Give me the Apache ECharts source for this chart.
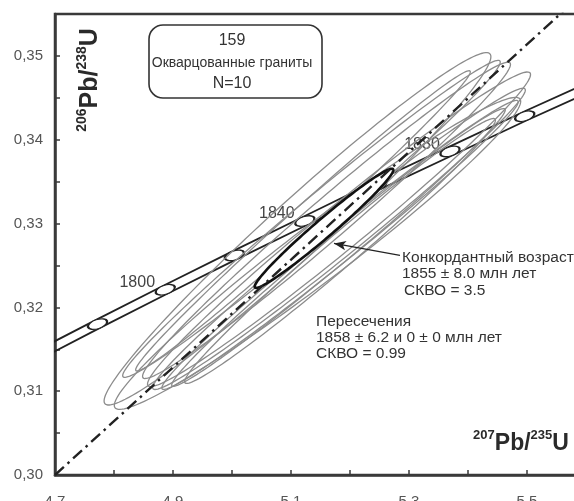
<!DOCTYPE html>
<html>
<head>
<meta charset="utf-8">
<script src="https://cdn.jsdelivr.net/npm/echarts@6/dist/echarts.min.js"></script>
<style>
html, body { margin: 0; padding: 0; background: #fff; }
#chart { width: 574px; height: 501px; }
</style>
</head>
<body>
<div id="chart"></div>
<script>
// Concordia age marks (Ma) with 207Pb/235U and 206Pb/238U coordinates
const concAges = [1780, 1800, 1820, 1840, 1860, 1880, 1900];
const concX = [4.7721, 4.8869, 5.0040, 5.1234, 5.2453, 5.3695, 5.4962];
const concY = [0.3180, 0.3221, 0.3262, 0.3303, 0.3345, 0.3386, 0.3428];

// Edges of the concordia band, 1760–1920 Ma
const bandX = [4.6595, 4.7721, 4.8869, 5.0040, 5.1234, 5.2453, 5.3695, 5.4962, 5.6254];
const bandUpper = [0.3145, 0.3186, 0.3227, 0.3268, 0.3309, 0.3351, 0.3392, 0.3434, 0.3475];
const bandLower = [0.3133, 0.3174, 0.3215, 0.3256, 0.3297, 0.3339, 0.3380, 0.3422, 0.3463];

// Zircon analyses: 207Pb/235U ± err, 206Pb/238U ± err, error correlation
const pb207u235 = [5.1110, 5.1347, 5.1203, 5.1602, 5.1814, 5.1814, 5.1831, 5.1805, 5.1831, 5.1449];
const pb207u235Err = [0.3278, 0.3200, 0.2836, 0.3118, 0.3246, 0.3158, 0.3020, 0.2827, 0.2634, 0.3444];
const pb206u238 = [0.32937, 0.33056, 0.33032, 0.33038, 0.32931, 0.32817, 0.32745, 0.32715, 0.32673, 0.32644];
const pb206u238Err = [0.02102, 0.01891, 0.01791, 0.01887, 0.01877, 0.01797, 0.01724, 0.01657, 0.01580, 0.01861];
const errCorr = [0.9769, 0.9891, 0.9925, 0.9860, 0.9839, 0.9878, 0.9896, 0.9902, 0.9870, 0.9743];

// Concordant age ellipse: 207/235, err, 206/238, err, rho
const concordantEllipse = [5.1559, 0.1175, 0.32943, 0.00711, 0.9793];

// Discordia chord
const discordiaX = [4.70, 5.60];
const discordiaY = [0.3000, 0.3578];

// Arrow from the concordant-age note to its ellipse
const arrowFrom = [5.2847, 0.32620];
const arrowTo = [5.1729, 0.32763];

const FONT = '"Liberation Sans", Arial, sans-serif';
const INK = '#333';

function ellipseItem(stroke, lineWidth, fill) {
  return function (params, api) {
    const x = api.value(0), y = api.value(1), sx = api.value(2), sy = api.value(3), r = api.value(4);
    const q = Math.sqrt(1 - r * r);
    const pts = [];
    for (let k = 0; k < 160; k++) {
      const t = (k / 160) * Math.PI * 2;
      pts.push(api.coord([x + sx * Math.cos(t), y + sy * (r * Math.cos(t) + q * Math.sin(t))]));
    }
    return {
      type: 'polygon',
      shape: { points: pts },
      style: { fill: fill, stroke: stroke, lineWidth: lineWidth }
    };
  };
}

function note(x, y, text, size) {
  return {
    type: 'text', x: x, y: y, z: 100,
    style: {
      text: text, fill: INK,
      fontSize: size || 15.5, fontFamily: FONT,
      textAlign: 'left', textVerticalAlign: 'middle',
      align: 'left', verticalAlign: 'middle'
    }
  };
}

function centred(x, y, text, size) {
  const t = note(x, y, text, size);
  t.style.textAlign = 'center';
  t.style.align = 'center';
  return t;
}

function ratioTitle(x, y, rotation, top, bottom, bigSize, supSize) {
  const big = { fontSize: bigSize, fontWeight: 'bold', fontFamily: FONT, fill: '#2a2a2a', verticalAlign: 'bottom', lineHeight: bigSize + 3 };
  const sup = { fontSize: supSize, fontWeight: 'bold', fontFamily: FONT, fill: '#2a2a2a', verticalAlign: 'top', lineHeight: supSize + 1 };
  return {
    type: 'text', x: x, y: y, rotation: rotation, z: 100,
    style: {
      text: '{s|' + top + '}{b|Pb/}{s|' + bottom + '}{b|U}',
      textAlign: 'center', textVerticalAlign: 'middle', align: 'center', verticalAlign: 'middle',
      rich: { s: sup, b: big }
    }
  };
}

const chart = echarts.init(document.getElementById('chart'), null, { renderer: 'canvas' });

chart.setOption({
  animation: false,
  backgroundColor: '#fff',
  grid: {
    left: 55, top: 14, bottom: 26, right: -12,
    outerBoundsMode: 'none', containLabel: false,
    show: true, borderColor: '#3a3a3a', borderWidth: 2.5, backgroundColor: 'transparent'
  },
  xAxis: {
    type: 'value', min: 4.7, max: 5.6, interval: 0.1,
    axisLine: { show: true, onZero: false, lineStyle: { color: '#3a3a3a', width: 2.5 } },
    axisTick: { show: true, inside: true, length: 5, lineStyle: { color: '#3a3a3a', width: 1.5 } },
    axisLabel: {
      margin: 19, fontSize: 15, fontFamily: FONT, color: '#555',
      formatter: v => (Math.round(v * 10) % 2 === 1 ? v.toFixed(1) : '')
    },
    splitLine: { show: false }
  },
  yAxis: {
    type: 'value', min: 0.30, max: 0.355, interval: 0.005,
    axisLine: { show: true, onZero: false, lineStyle: { color: '#3a3a3a', width: 2.5 } },
    axisTick: { show: true, inside: true, length: 5, lineStyle: { color: '#3a3a3a', width: 1.5 } },
    axisLabel: {
      margin: 12, fontSize: 15, fontFamily: FONT, color: '#555',
      formatter: v => (Math.round(v * 1000) % 10 === 0 ? v.toFixed(2).replace('.', ',') : '')
    },
    splitLine: { show: false }
  },
  series: [
    {
      name: 'band-upper', type: 'line', showSymbol: false, silent: true, z: 2,
      data: bandX.map((x, i) => [x, bandUpper[i]]),
      lineStyle: { color: '#222', width: 1.8 }
    },
    {
      name: 'band-lower', type: 'line', showSymbol: false, silent: true, z: 2,
      data: bandX.map((x, i) => [x, bandLower[i]]),
      lineStyle: { color: '#222', width: 1.8 }
    },
    {
      name: 'age-marks', type: 'scatter', silent: true, z: 3,
      data: concX.map((x, i) => [x, concY[i], concAges[i]]),
      symbol: 'circle', symbolSize: [20, 9], symbolRotate: 18,
      itemStyle: { color: '#fff', borderColor: '#222', borderWidth: 1.6, opacity: 1 },
      label: {
        show: true, position: 'left', distance: -2, offset: [0, -7],
        fontSize: 16, fontFamily: FONT, color: '#444',
        formatter: p => (p.value[2] % 40 === 0 ? String(p.value[2]) : '')
      }
    },
    {
      name: 'analyses', type: 'custom', coordinateSystem: 'cartesian2d', silent: true, z: 4,
      data: pb207u235.map((x, i) => [x, pb206u238[i], pb207u235Err[i], pb206u238Err[i], errCorr[i]]),
      encode: { x: 0, y: 1 },
      renderItem: ellipseItem('#8c8c8c', 1.3, 'none')
    },
    {
      name: 'concordant-age', type: 'custom', coordinateSystem: 'cartesian2d', silent: true, z: 5,
      data: [[concordantEllipse[0], concordantEllipse[2], concordantEllipse[1], concordantEllipse[3], concordantEllipse[4]]],
      encode: { x: 0, y: 1 },
      renderItem: ellipseItem('#111', 2.6, '#fff')
    },
    {
      name: 'discordia', type: 'line', showSymbol: false, silent: true, z: 6,
      data: discordiaX.map((x, i) => [x, discordiaY[i]]),
      lineStyle: { color: '#222', width: 2.4, type: [12, 5, 2.5, 5] },
      markLine: {
        silent: true, animation: false,
        symbol: ['none', 'arrow'], symbolSize: [7, 12],
        lineStyle: { color: '#222', width: 1.3, type: 'solid' },
        label: { show: false },
        data: [[{ coord: arrowFrom }, { coord: arrowTo }]]
      }
    }
  ],
  graphic: [
    {
      type: 'rect', z: 90,
      shape: { x: 149, y: 25, width: 173, height: 73, r: 14 },
      style: { fill: '#fff', stroke: '#333', lineWidth: 1.6 }
    },
    centred(232, 41, '159', 16),
    centred(232, 63, 'Окварцованные граниты', 14),
    centred(232, 84, 'N=10', 16),
    note(402, 258, 'Конкордантный возраст'),
    note(402, 274, '1855 ± 8.0 млн лет'),
    note(404, 291, 'СКВО = 3.5'),
    note(316, 322, 'Пересечения'),
    note(316, 338, '1858 ± 6.2 и 0 ± 0 млн лет'),
    note(316, 354, 'СКВО = 0.99'),
    ratioTitle(89, 80, Math.PI / 2, '206', '238', 25, 14),
    ratioTitle(521, 442, 0, '207', '235', 23, 13)
  ]
});
</script>
</body>
</html>
